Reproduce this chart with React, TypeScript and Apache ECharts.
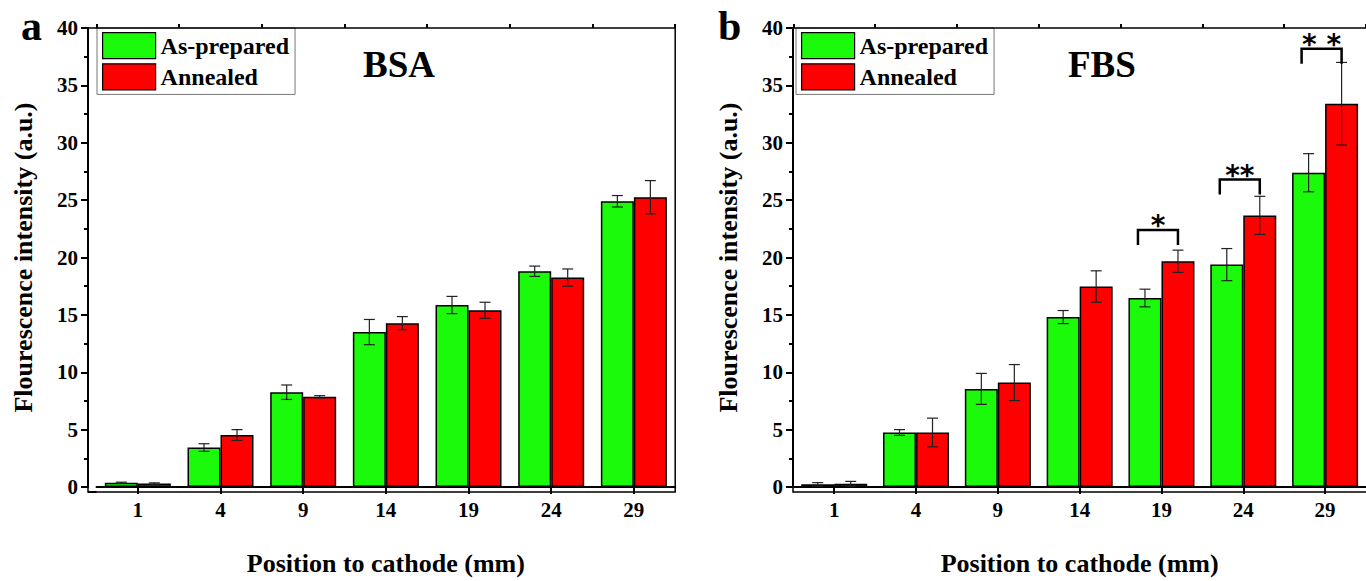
import React, { useEffect, useRef } from "react";
import * as echarts from "echarts";

// ---------------- data ----------------
const categories = ["1", "4", "9", "14", "19", "24", "29"];
const seriesNames = ["As-prepared", "Annealed"];

const bsaAsPrepared = [0.37, 3.44, 8.26, 13.5, 15.86, 18.8, 24.9];
const bsaAsPreparedErr = [0.05, 0.33, 0.63, 1.1, 0.75, 0.45, 0.5];
const bsaAnnealed = [0.3, 4.53, 7.86, 14.28, 15.4, 18.25, 25.25];
const bsaAnnealedErr = [0.06, 0.47, 0.1, 0.57, 0.7, 0.75, 1.45];

const fbsAsPrepared = [0.23, 4.75, 8.55, 14.81, 16.47, 19.38, 27.39];
const fbsAsPreparedErr = [0.15, 0.25, 1.35, 0.57, 0.77, 1.4, 1.66];
const fbsAnnealed = [0.29, 4.75, 9.1, 17.47, 19.67, 23.67, 33.4];
const fbsAnnealedErr = [0.2, 1.25, 1.57, 1.37, 0.97, 1.66, 3.6];

const sigCategories = ["19", "24", "29"];
const sigMarks = ["*", "**", "* *"];
const sigLevels = [22.4, 26.8, 38.2];

const yMin = 0;
const yMax = 40;
const yInterval = 5;

const panelTitles = ["BSA", "FBS"];
const panelLetters = ["a", "b"];
const yTitle = "Flourescence intensity (a.u.)";
const xTitle = "Position to cathode (mm)";

// ---------------- style / layout ----------------
const W = 1366;
const H = 581;
const GREEN = "#1cfa0c";
const RED = "#ff0000";
const SERIF = '"Liberation Serif", "Times New Roman", serif';
const BAR_W = 33;
const TOP = 28;
const BOTTOM_Y = 492;

const panels = [
  { axisX: 88, catLeft: 96.5, catRight: 675.2, letterX: 21, legendDx: 9 },
  { axisX: 793, catLeft: 793.3, catRight: 1372, letterX: 718, legendDx: 3 },
];

function errorSeries(name: string, values: number[], errs: number[], shift: number, idx: number) {
  return {
    type: "custom",
    name: name + "-err",
    xAxisIndex: idx,
    yAxisIndex: idx,
    z: 5,
    silent: true,
    data: values.map((v, i) => [i, v, errs[i]]),
    renderItem: (params: any, api: any) => {
      const x = api.value(0);
      const v = api.value(1);
      const e = api.value(2);
      const hi = api.coord([x, v + e]);
      const lo = api.coord([x, v - e]);
      const cx = hi[0] + shift;
      const cap = 5.5;
      const st = { stroke: "#222", lineWidth: 1.2 };
      return {
        type: "group",
        children: [
          { type: "line", shape: { x1: cx, y1: hi[1], x2: cx, y2: lo[1] }, style: st },
          { type: "line", shape: { x1: cx - cap, y1: hi[1], x2: cx + cap, y2: hi[1] }, style: st },
          { type: "line", shape: { x1: cx - cap, y1: lo[1], x2: cx + cap, y2: lo[1] }, style: st },
        ],
      };
    },
  };
}

function barSeries(name: string, values: number[], color: string, idx: number) {
  return {
    type: "bar",
    name,
    xAxisIndex: idx,
    yAxisIndex: idx,
    barWidth: BAR_W,
    barGap: "0%",
    z: 2,
    itemStyle: { color, borderColor: "#000", borderWidth: 1.5 },
    data: values,
  };
}

export default function App() {
  const ref = useRef<HTMLDivElement>(null);

  useEffect(() => {
    if (!ref.current) return;
    const chart = echarts.init(ref.current, null, { renderer: "svg" });

    const grids = panels.map((p) => ({
      left: p.catLeft,
      right: W - p.catRight,
      top: TOP,
      height: BOTTOM_Y - TOP,
      containLabel: false,
    }));

    const labelFont = { fontFamily: SERIF, fontWeight: "bold", fontSize: 21, color: "#000" };
    const nameFont = { fontFamily: SERIF, fontWeight: "bold", fontSize: 26, color: "#000" };

    const xAxes: any[] = [];
    panels.forEach((p, i) => {
      xAxes.push({
        type: "category",
        gridIndex: i,
        data: categories,
        axisLine: { show: true, lineStyle: { color: "#000", width: 2 } },
        axisTick: { show: true, alignWithLabel: true, length: 7, lineStyle: { color: "#000", width: 2 } },
        axisLabel: { ...labelFont, margin: 12 },
        name: xTitle,
        nameLocation: "middle",
        nameGap: 63,
        nameTextStyle: nameFont,
        splitLine: { show: false },
      });
    });
    panels.forEach((p, i) => {
      xAxes.push({
        type: "category",
        gridIndex: i,
        data: categories,
        axisLine: { show: false },
        axisTick: { show: true, alignWithLabel: false, length: 4, lineStyle: { color: "#000", width: 2 } },
        axisLabel: { show: false },
        splitLine: { show: false },
      });
    });

    const yAxes = panels.map((p, i) => ({
      type: "value",
      gridIndex: i,
      min: yMin,
      max: yMax,
      interval: yInterval,
      offset: p.catLeft - p.axisX,
      axisLine: { show: true, lineStyle: { color: "#000", width: 2 } },
      axisTick: { show: true, length: 7, lineStyle: { color: "#000", width: 2 } },
      minorTick: { show: true, splitNumber: 2, length: 4, lineStyle: { color: "#000", width: 2 } },
      splitLine: { show: false },
      axisLabel: { ...labelFont, margin: 10 },
      name: yTitle,
      nameLocation: "middle",
      nameGap: 52,
      nameTextStyle: nameFont,
    }));

    const legends = panels.map((p) => ({
      orient: "vertical",
      left: p.axisX + p.legendDx,
      top: TOP,
      padding: [4, 6, 4, 5],
      itemGap: 4,
      itemWidth: 53,
      itemHeight: 26,
      icon: "rect",
      backgroundColor: "#fff",
      borderColor: "#777",
      borderWidth: 1,
      borderRadius: 0,
      data: seriesNames,
      textStyle: { fontFamily: SERIF, fontWeight: "bold", fontSize: 24, color: "#000" },
      itemStyle: { borderColor: "#000", borderWidth: 1.2 },
      selectedMode: false,
    }));

    const series: any[] = [
      barSeries(seriesNames[0], bsaAsPrepared, GREEN, 0),
      barSeries(seriesNames[1], bsaAnnealed, RED, 0),
      barSeries(seriesNames[0], fbsAsPrepared, GREEN, 1),
      barSeries(seriesNames[1], fbsAnnealed, RED, 1),
      errorSeries(seriesNames[0], bsaAsPrepared, bsaAsPreparedErr, -BAR_W / 2, 0),
      errorSeries(seriesNames[1], bsaAnnealed, bsaAnnealedErr, BAR_W / 2, 0),
      errorSeries(seriesNames[0], fbsAsPrepared, fbsAsPreparedErr, -BAR_W / 2, 1),
      errorSeries(seriesNames[1], fbsAnnealed, fbsAnnealedErr, BAR_W / 2, 1),
    ];

    const frameAndTitles: any[] = [];
    panels.forEach((p, i) => {
      frameAndTitles.push({
        type: "rect",
        z: 10,
        silent: true,
        shape: { x: p.axisX, y: TOP, width: p.catRight - p.axisX, height: BOTTOM_Y - TOP },
        style: { fill: "none", stroke: "#000", lineWidth: 1.5 },
      });
      frameAndTitles.push({
        type: "line",
        z: 10,
        silent: true,
        shape: { x1: p.axisX, y1: BOTTOM_Y, x2: p.catLeft, y2: BOTTOM_Y },
        style: { stroke: "#000", lineWidth: 2 },
      });
      frameAndTitles.push({
        type: "text",
        z: 10,
        x: p.axisX + 275,
        y: 64,
        style: {
          text: panelTitles[i],
          font: `bold 37px ${SERIF}`,
          fill: "#000",
          verticalAlign: "middle",
        },
      });
      frameAndTitles.push({
        type: "text",
        z: 10,
        x: p.letterX,
        y: 5,
        style: {
          text: panelLetters[i],
          font: `bold 42px ${SERIF}`,
          fill: "#000",
          verticalAlign: "top",
        },
      });
    });

    chart.setOption({
      animation: false,
      backgroundColor: "#fff",
      grid: grids,
      xAxis: xAxes,
      yAxis: yAxes,
      legend: legends,
      series,
      graphic: frameAndTitles,
    });

    // significance brackets (FBS panel), positioned through the axes
    const sigGraphics: any[] = [];
    sigCategories.forEach((cat, k) => {
      const top = chart.convertToPixel({ xAxisIndex: 1, yAxisIndex: 1 }, [cat, sigLevels[k]]) as number[];
      const xl = top[0] - BAR_W / 2 - 7;
      const xr = top[0] + BAR_W / 2;
      const leg = 15;
      sigGraphics.push({
        type: "polyline",
        z: 12,
        silent: true,
        shape: { points: [[xl, top[1] + leg], [xl, top[1]], [xr, top[1]], [xr, top[1] + leg]] },
        style: { stroke: "#000", lineWidth: 2.5, fill: "none" },
      });
      sigGraphics.push({
        type: "text",
        z: 12,
        silent: true,
        x: (xl + xr) / 2,
        y: top[1] - 4,
        style: {
          text: sigMarks[k],
          font: 'bold 28px "DejaVu Sans", sans-serif',
          fill: "#000",
          align: "center",
          verticalAlign: "middle",
        },
      });
    });
    chart.setOption({ graphic: [...frameAndTitles, ...sigGraphics] });

    return () => chart.dispose();
  }, []);

  return (
    <div
      ref={ref}
      style={{ position: "fixed", left: 0, top: 0, width: W, height: H, background: "#fff" }}
    />
  );
}
